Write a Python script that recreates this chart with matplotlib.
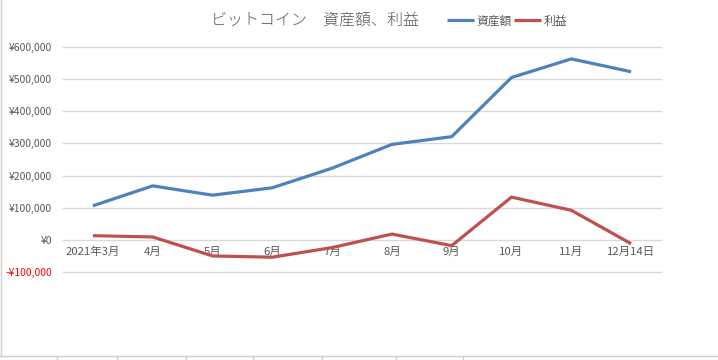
import matplotlib
matplotlib.use("Agg")
import matplotlib.pyplot as plt
from matplotlib.lines import Line2D
from matplotlib.ticker import FuncFormatter

plt.rcParams['font.family'] = ['Noto Sans CJK JP', 'DejaVu Sans']

# data
months = ['2021年3月', '4月', '5月', '6月', '7月', '8月', '9月', '10月', '11月', '12月14日']
assets = [106000, 168000, 139000, 162000, 223000, 297000, 321000, 505000, 563000, 523000]
profit = [13000, 9000, -50000, -54000, -24000, 18000, -18000, 133000, 92000, -12000]

fig = plt.figure(figsize=(7.18, 3.6), dpi=100)
ax = fig.add_axes([63 / 718, 1 - 272 / 360, 598 / 718, 225 / 360])

x = list(range(len(months)))
ax.plot(x, assets, color='#4f81bd', lw=2.3, label='資産額', solid_capstyle='butt')
ax.plot(x, profit, color='#c0504d', lw=2.3, label='利益', solid_capstyle='butt')

ax.set_xlim(-0.5, len(months) - 0.5)
ax.set_ylim(-100000, 600000)
ax.set_yticks(range(-100000, 600001, 100000))

def yen(v, pos):
    if v < 0:
        return '-¥{:,.0f}'.format(-v)
    return '¥{:,.0f}'.format(v)

ax.yaxis.set_major_formatter(FuncFormatter(yen))
ax.grid(axis='y', color='#d9d9d9', lw=1)
for gl in ax.get_ygridlines():
    gl.set_clip_on(False)
ax.set_axisbelow(True)
for s in ax.spines.values():
    s.set_visible(False)
ax.spines['bottom'].set_position(('data', 0))

ax.set_xticks(x)
ax.set_xticklabels(months)
ax.tick_params(axis='x', length=0, pad=5, labelsize=8.2, labelcolor='#595959')
ax.tick_params(axis='y', length=0, pad=8, labelsize=7.5, labelcolor='#595959')
for lbl in ax.get_yticklabels():
    if lbl.get_text().startswith('-'):
        lbl.set_color('#ff0000')

fig.text(315 / 718, 1 - 20 / 360, 'ビットコイン\u3000資産額、利益', ha='center', va='center',
         fontsize=11.5, color='#595959', fontweight='light')
ax.legend(loc='center left', bbox_to_anchor=(436 / 718, 1 - 21 / 360),
          bbox_transform=fig.transFigure, ncol=2, frameon=False,
          fontsize=8.5, handlelength=2.3, handletextpad=0.2, columnspacing=0.2,
          labelcolor='#595959')

# spreadsheet border remnants
fig.add_artist(Line2D([0.5 / 718, 0.5 / 718], [1 - 356 / 360, 1], color='#d0d0d0', lw=1))
fig.add_artist(Line2D([0, 1], [1 - 356 / 360, 1 - 356 / 360], color='#d0d0d0', lw=1))
for px in [57, 117, 186, 253, 322, 396, 463]:
    fig.add_artist(Line2D([px / 718, px / 718], [0, 1 - 356 / 360], color='#d0d0d0', lw=1))

fig.savefig('out.png', dpi=100)
